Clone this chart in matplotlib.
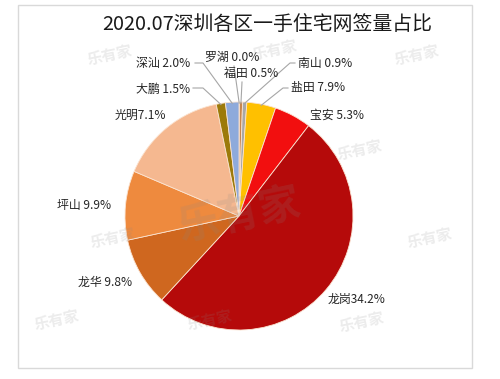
import numpy as np
import matplotlib
matplotlib.use("Agg")
from matplotlib import pyplot as plt
from matplotlib.patches import Rectangle

plt.rcParams['font.family'] = ['Noto Sans CJK SC', 'DejaVu Sans']

title = "2020.07深圳各区一手住宅网签量占比"

districts = ["罗湖", "福田", "南山", "盐田", "宝安", "龙岗", "龙华", "坪山", "光明", "大鹏", "深汕"]
# slice sizes as measured on the picture (the printed labels do not add up to 100)
shares = [0.05, 0.45, 0.6, 4.1, 5.25, 51.4, 9.75, 9.8, 15.4, 1.3, 1.9]
labels = ["罗湖 0.0%", "福田 0.5%", "南山 0.9%", "盐田 7.9%", "宝安 5.3%", "龙岗34.2%",
          "龙华 9.8%", "坪山 9.9%", "光明7.1%", "大鹏 1.5%", "深汕 2.0%"]
colors = ["#4472C4", "#C8864E", "#A8A8A8", "#FFC000", "#F20F0F", "#B50A0A",
          "#CF671F", "#EE8A3E", "#F5B890", "#9C7A0A", "#8EAADB"]

# label anchor (left x, centre y) in pixels
label_pos = [(205, 57), (224, 73), (298, 63), (291, 88), (310, 115), (328, 299),
             (78, 282), (57, 205), (115, 115), (136, 89), (136, 63)]
# leader lines: start point, elbow (None = no line)
leaders = {
    0: [(234, 66)],
    1: [(242, 82)],
    2: [(295, 63), (290, 63)],
    3: [(288, 88), (283, 88)],
    9: [(193, 88), (203, 88)],
    10: [(195, 63), (203, 63)],
}

cx, cy, r = 239, 216, 114

fig = plt.figure(figsize=(5.0, 3.79), dpi=100)
ax = fig.add_axes([0, 0, 1, 1])

wedges, _ = ax.pie(shares, colors=colors, startangle=-90, counterclock=True,
                   center=(cx, cy), radius=r,
                   wedgeprops=dict(edgecolor="#FBE3D0", linewidth=0.6))
ax.set_xlim(0, 500)
ax.set_ylim(379, 0)
ax.set_aspect('auto')
ax.axis('off')

# frame
ax.add_patch(Rectangle((18, 5), 454, 363, fill=False, edgecolor="#D9D9D9", linewidth=1))

# watermarks
wm = [(110, 55, 11), (275, 50, 11), (417, 55, 11), (240, 215, 30), (113, 238, 11),
      (360, 150, 11), (430, 238, 11), (57, 320, 11), (210, 320, 11), (362, 322, 11)]
for x, y, s in wm:
    ax.text(x, y, "乐有家", fontsize=s, color="#888888", alpha=0.16, rotation=12,
            ha="center", va="center", fontweight="bold")

ax.text(267, 25, title, fontsize=14.3, color="#1a1a1a", ha="center", va="center")

for i, w in enumerate(wedges):
    lx, ly = label_pos[i]
    ax.text(lx, ly, labels[i], fontsize=8.6, color="#262626", ha="left", va="center")
    if i in leaders:
        mid = np.deg2rad((w.theta1 + w.theta2) / 2)
        ex, ey = cx + r * 0.99 * np.cos(mid), cy + r * 0.99 * np.sin(mid)
        pts = leaders[i] + [(ex, ey)]
        ax.plot([p[0] for p in pts], [p[1] for p in pts], color="#A6A6A6", lw=0.8)

fig.savefig("out.png", dpi=100)
